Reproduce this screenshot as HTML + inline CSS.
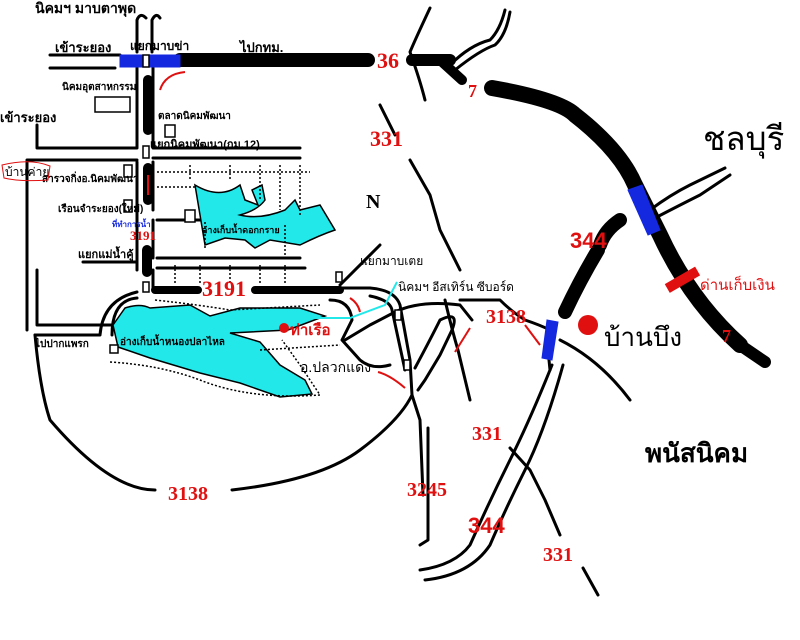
<!DOCTYPE html>
<html><head><meta charset="utf-8"><style>
html,body{margin:0;padding:0;background:#fff;}
svg{display:block;}
.t{font-family:"Liberation Sans","Noto Sans CJK SC",sans-serif;}
.r{font-family:"Liberation Serif",serif;font-weight:bold;fill:#e01010;}
</style></head><body>
<svg width="800" height="640" viewBox="0 0 800 640" xmlns="http://www.w3.org/2000/svg">
<rect width="800" height="640" fill="#fff"/>
<g fill="none" stroke="#000" stroke-width="3" stroke-linecap="round" stroke-linejoin="round">
<path d="M50 55 H120 M50 68 H115"/>
<path d="M137 52 V20 Q140 12 146 18 M152 52 V20 Q156 12 160 18"/>
<path d="M137 68 V148 M37 148 H137 M37 125 V148"/>
<path d="M153 68 V148 H300"/>
<path d="M153 158 H300"/>
<path d="M137 162 V270 M27 160 H137 M27 160 V330"/>
<path d="M153 162 V210 M153 220 V258 M157 220 H300 M157 258 H300 M157 268 H305 M153 270 V290"/>
<path d="M83 262 H137 M37 270 V325 H137"/>
<path d="M35 335 Q40 390 50 420 Q110 490 155 490 M232 490 Q320 480 360 450 Q400 420 412 395"/>
<path d="M35 335 H100 Q103 300 137 292 M112 335 Q112 300 137 298"/>
<path d="M340 288 H370 Q395 290 400 305 L410 360 L412 395 L420 420 L422 470 M370 296 Q390 300 392 310 L405 370"/>
<path d="M330 300 Q350 300 352 320 L342 340 L360 360 Q372 370 390 365"/>
<path d="M380 245 L340 285"/>
<path d="M345 340 L370 325 L395 312 M395 312 Q420 300 460 305 L472 320 M415 368 Q430 340 440 320 Q460 310 452 330 L440 355 L425 380 L418 390"/>
<path d="M422 470 L423 495" />
<path d="M428 428 V540 L420 545"/>
<path d="M445 300 Q452 330 458 350 L470 400 M548 350 L550 370"/>
<path d="M380 105 L395 135 M410 160 L430 195 L440 230 L460 270"/>
<path d="M430 8 Q415 40 410 52 Q420 80 425 100" />
<path d="M510 448 L530 470 L545 500 L560 535 M583 568 L598 595"/>
<path d="M460 300 H500 Q512 312 525 320 Q540 325 550 330"/>
<path d="M560 340 Q600 360 630 400"/>
<path d="M552 365 Q530 420 510 460 Q490 500 470 545 Q455 565 420 570 M563 365 Q545 430 525 470 Q505 510 490 545 Q470 575 425 580"/>
<path d="M450 65 Q470 45 490 40 Q500 30 505 10 M455 70 Q480 50 495 45 Q506 35 510 12"/>
<path d="M650 210 Q670 195 690 185 L725 168 M655 218 Q680 205 700 195 L730 175"/>
</g>
<g stroke="#000" fill="none" stroke-linecap="round">
<path d="M180 60 H368" stroke-width="14"/>
<path d="M412 60 H450" stroke-width="12"/>
<path d="M440 60 L462 80" stroke-width="10"/>
<path d="M492 88 Q560 100 575 115 Q620 150 635 185 L660 235 Q690 300 740 345" stroke-width="16"/>
<path d="M740 345 L765 362" stroke-width="12"/>
<path d="M620 220 Q605 230 600 245 M598 250 Q580 280 565 312" stroke-width="14"/>
<path d="M148 80 V130 M148 168 V200 M147 250 V272" stroke-width="10"/>
<path d="M155 290 H198 M255 290 H340" stroke-width="8"/>
</g>
<g fill="#1428e0" stroke="#1428e0">
<rect x="120" y="55" width="60" height="12"/>
<path d="M628 190 L642 185 L660 230 L648 235 Z"/>
<path d="M547 320 L558 322 L552 360 L542 358 Z"/>
</g>
<g fill="#22e8ea" stroke="#000" stroke-width="1.5">
<path d="M195 185 Q220 200 240 185 L245 200 L258 205 L252 190 L262 185 L265 200 Q258 210 240 215 Q260 220 285 210 L295 200 L300 210 L320 205 L335 230 Q320 235 300 245 L270 240 L255 248 L245 240 L225 238 L205 245 Z"/>
<path d="M125 308 Q140 303 150 308 L190 305 L210 316 L240 308 L300 308 L325 316 L288 330 L230 333 L260 342 L280 365 L305 380 L312 394 L280 397 L240 383 L200 373 L150 358 L118 347 L113 325 Z"/>
</g>
<g fill="none" stroke="#000" stroke-width="1.5" stroke-dasharray="2 2">
<path d="M157 172 H310 M157 187 H195 M190 165 V180 M230 165 V180 M260 165 V200 M280 165 V210 M300 165 V215"/>
<path d="M155 300 Q200 305 230 310 L320 305 M110 362 Q160 365 200 380 Q250 400 320 395 L300 365 L282 340 M260 350 L340 345"/>
<path d="M175 265 V285 M200 265 V285 M230 265 V285 M260 265 V285 M285 265 V285 M205 222 V250 M285 225 V255"/>
</g>
<path d="M315 318 L350 318 L385 305 L397 282" stroke="#22e8ea" stroke-width="2" fill="none"/>
<g fill="#fff" stroke="#000" stroke-width="1.5">
<rect x="95" y="97" width="35" height="15"/><rect x="165" y="125" width="10" height="12"/>
<rect x="124" y="165" width="8" height="12"/><rect x="124" y="200" width="8" height="12"/>
<rect x="185" y="210" width="10" height="12"/><rect x="110" y="345" width="8" height="8"/>
<rect x="143" y="55" width="6" height="12"/><rect x="143" y="146" width="6" height="12"/>
<rect x="143" y="282" width="6" height="10"/><rect x="336" y="272" width="6" height="10"/>
<rect x="395" y="310" width="6" height="10"/><rect x="404" y="360" width="6" height="10"/>
</g>
<rect x="665" y="275" width="35" height="10" fill="#e01010" transform="rotate(-30 682 280)"/>
<g stroke="#e01010" fill="none" stroke-width="2">
<path d="M185 72 Q165 74 160 90"/><path d="M350 298 Q358 303 360 312"/><path d="M470 328 L455 352"/>
<path d="M405 388 Q390 375 378 372"/><path d="M540 345 L525 325"/><path d="M148 175 V195"/>
</g>
<circle cx="284" cy="328" r="5" fill="#e01010"/><circle cx="588" cy="325" r="10" fill="#e01010"/>
<g class="t" fill="#000" font-weight="bold">
<text x="35" y="13" font-size="14">นิคมฯ มาบตาพุด</text>
<text x="55" y="52" font-size="13">เข้าระยอง</text>
<text x="130" y="50" font-size="12">แยกมาบข่า</text>
<text x="240" y="52" font-size="13">ไปกทม.</text>
<text x="62" y="90" font-size="10">นิคมอุตสาหกรรม</text>
<text x="0" y="122" font-size="13">เข้าระยอง</text>
<text x="158" y="119" font-size="10">ตลาดนิคมพัฒนา</text>
<text x="150" y="148" font-size="11">แยกนิคมพัฒนา(กม.12)</text>
<text x="42" y="182" font-size="10">สารวจกิ่งอ.นิคมพัฒนา</text>
<text x="58" y="212" font-size="10">เรือนจำระยอง(ใหม่)</text>
<text x="78" y="258" font-size="11">แยกแม่น้ำคู้</text>
<text x="35" y="347" font-size="10">ไปปากแพรก</text>
<text x="120" y="345" font-size="10">อ่างเก็บน้ำหนองปลาไหล</text>
<text x="202" y="233" font-size="9">อ่างเก็บน้ำดอกกราย</text>
<text x="360" y="265" font-size="12" font-weight="normal">แยกมาบเตย</text>
<text x="398" y="291" font-size="12" font-weight="normal">นิคมฯ อีสเทิร์น ซีบอร์ด</text>
<text x="300" y="372" font-size="14" font-weight="normal">อ.ปลวกแดง</text>
<text x="366" y="208" font-size="20" font-family="Liberation Serif,serif">N</text>
<text x="703" y="150" font-size="33" font-weight="normal">ชลบุรี</text>
<text x="604" y="346" font-size="26" font-weight="normal">บ้านบึง</text>
<text x="645" y="462" font-size="26">พนัสนิคม</text>
</g>
<text x="112" y="227" class="t" font-size="8" fill="#1428e0" font-weight="bold">ที่ทำการน้ำ</text>
<text x="5" y="176" class="t" font-size="12" fill="#000">บ้านค่าย</text>
<path d="M2 165 Q30 158 50 166 L48 180 Q20 182 4 178 Z" fill="none" stroke="#e01010"/>
<text x="700" y="290" class="t" font-size="15" fill="#e01010">ด่านเก็บเงิน</text>
<text x="290" y="335" class="t" font-size="15" fill="#e01010" font-weight="bold">ท่าเรือ</text>
<g class="r">
<text x="377" y="68" font-size="22">36</text>
<text x="468" y="97" font-size="18">7</text>
<text x="370" y="146" font-size="22">331</text>
<text x="570" y="248" font-size="22" font-family="Liberation Sans,sans-serif">344</text>
<text x="722" y="342" font-size="18">7</text>
<text x="486" y="323" font-size="20">3138</text>
<text x="472" y="440" font-size="20">331</text>
<text x="407" y="496" font-size="20">3245</text>
<text x="468" y="533" font-size="22" font-family="Liberation Sans,sans-serif">344</text>
<text x="543" y="561" font-size="20">331</text>
<text x="168" y="500" font-size="20">3138</text>
<text x="202" y="296" font-size="22">3191</text>
<text x="130" y="240" font-size="13">3191</text>
</g>
</svg>
</body></html>
